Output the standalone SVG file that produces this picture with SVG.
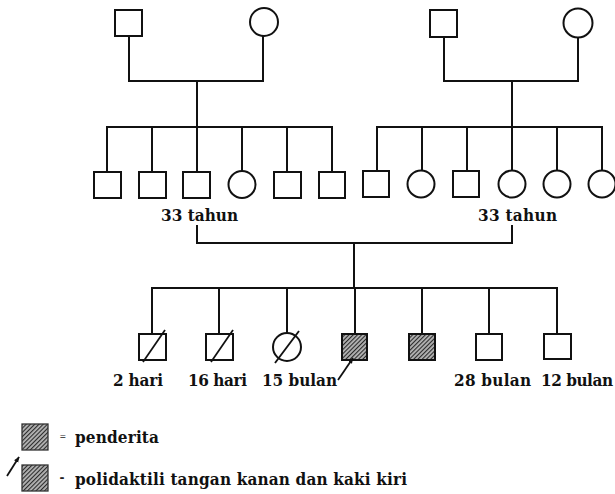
<svg xmlns="http://www.w3.org/2000/svg" width="615" height="494" viewBox="0 0 615 494">
  <style>
    .ln { fill: none; stroke: #111; stroke-width: 2; stroke-linecap: square; }
    .sym { fill: #fff; stroke: #111; stroke-width: 2; }
    .aff { fill: url(#hatch); stroke: #111; stroke-width: 2; }
    .key { fill: url(#hatch); stroke: #333; stroke-width: 1.3; }
    .dec { stroke: #111; stroke-width: 1.8; }
    .lbl { font-family: "DejaVu Serif Condensed", "DejaVu Serif", "Liberation Serif", serif; font-stretch: condensed; font-size: 17px; font-weight: bold; fill: #111; }
    .sign { font-family: "DejaVu Sans", sans-serif; fill: #222; }
  </style>
  <defs>
    <pattern id="hatch" width="3" height="3" patternUnits="userSpaceOnUse" patternTransform="rotate(-45)">
      <rect width="3" height="3" fill="#b4b4b4"/>
      <rect width="3" height="1.1" fill="#2a2a2a"/>
    </pattern>
    <marker id="head" viewBox="0 0 10 10" refX="9" refY="5" markerWidth="6" markerHeight="6" orient="auto" markerUnits="userSpaceOnUse">
      <path d="M0,1 L10,5 L0,9 Z" fill="#111"/>
    </marker>
  </defs>
  <rect width="615" height="494" fill="#fff"/>

  <!-- connectors -->
  <g id="connectors" class="ln">
    <!-- paternal grandparents -->
    <path d="M129,36 V81 H263 V36"/>
    <path d="M197,81 V127"/>
    <path d="M107,127 H332"/>
    <path d="M107,127 V172 M152,127 V172 M197,127 V172 M242,127 V171 M287,127 V172 M332,127 V172"/>
    <!-- maternal grandparents -->
    <path d="M444,37 V81 H578 V37"/>
    <path d="M512,81 V127"/>
    <path d="M377,127 H602"/>
    <path d="M377,127 V172 M422,127 V171 M467,127 V172 M512,127 V171 M557,127 V171 M602,127 V171"/>
    <!-- marriage of the two 33-year-olds -->
    <path d="M197,226 V243 H512 V226"/>
    <path d="M354,243 V288"/>
    <!-- children -->
    <path d="M152,288 H557"/>
    <path d="M152,288 V334 M219,288 V334 M287,288 V333 M355,288 V334 M422,288 V334 M489,288 V334 M557,288 V334"/>
  </g>

  <!-- generation I -->
  <g id="gp1-male"><rect class="sym" x="115" y="10" width="27" height="26"/></g>
  <g id="gp1-female"><circle class="sym" cx="264" cy="22" r="14"/></g>
  <g id="gp2-male"><rect class="sym" x="430" y="10" width="27" height="27"/></g>
  <g id="gp2-female"><circle class="sym" cx="578" cy="23" r="14.5"/></g>

  <!-- generation II, paternal side -->
  <g id="p-sib1"><rect class="sym" x="94" y="172" width="27" height="26"/></g>
  <g id="p-sib2"><rect class="sym" x="139" y="172" width="27" height="26"/></g>
  <g id="father"><rect class="sym" x="183" y="172" width="27" height="26"/>
    <text class="lbl" x="161" y="221" textLength="77">33 tahun</text></g>
  <g id="p-sib4"><circle class="sym" cx="242" cy="184.5" r="13.5"/></g>
  <g id="p-sib5"><rect class="sym" x="274" y="172" width="27" height="26"/></g>
  <g id="p-sib6"><rect class="sym" x="319" y="172" width="26" height="26"/></g>

  <!-- generation II, maternal side -->
  <g id="m-sib1"><rect class="sym" x="363" y="171" width="26" height="26"/></g>
  <g id="m-sib2"><circle class="sym" cx="421" cy="184" r="13.5"/></g>
  <g id="m-sib3"><rect class="sym" x="453" y="171" width="26" height="26"/></g>
  <g id="mother"><circle class="sym" cx="512" cy="184" r="13.5"/>
    <text class="lbl" x="478" y="221" textLength="79">33 tahun</text></g>
  <g id="m-sib5"><circle class="sym" cx="557" cy="184" r="13.5"/></g>
  <g id="m-sib6"><circle class="sym" cx="602" cy="184" r="13.5"/></g>

  <!-- generation III -->
  <g id="c1"><rect class="sym" x="139" y="334" width="27" height="26"/>
    <line class="dec" x1="143" y1="362" x2="165" y2="330"/>
    <text class="lbl" x="113" y="386" textLength="50">2 hari</text></g>
  <g id="c2"><rect class="sym" x="206" y="334" width="27" height="26"/>
    <line class="dec" x1="211" y1="362" x2="233" y2="330"/>
    <text class="lbl" x="188" y="386" textLength="59">16 hari</text></g>
  <g id="c3"><circle class="sym" cx="287" cy="347" r="14"/>
    <line class="dec" x1="275" y1="363" x2="299" y2="331"/>
    <text class="lbl" x="262" y="386" textLength="75">15 bulan</text></g>
  <g id="c4-proband"><rect class="aff" x="342" y="334" width="25" height="26"/>
    <line class="dec" x1="338" y1="380" x2="353" y2="358" marker-end="url(#head)"/></g>
  <g id="c5"><rect class="aff" x="409" y="334" width="26" height="26"/></g>
  <g id="c6"><rect class="sym" x="476" y="334" width="26" height="26"/>
    <text class="lbl" x="454" y="386" textLength="77">28 bulan</text></g>
  <g id="c7"><rect class="sym" x="544" y="334" width="27" height="25"/>
    <text class="lbl" x="541" y="386" textLength="72">12 bulan</text></g>

  <!-- legend -->
  <g id="legend-affected"><rect class="key" x="22" y="424" width="26" height="26"/>
    <text class="sign" x="59.5" y="439" style="font-size:8px">=</text>
    <text class="lbl" x="75" y="443" textLength="84">penderita</text></g>
  <g id="legend-proband">
    <line class="dec" x1="7" y1="476" x2="19" y2="457" marker-end="url(#head)"/>
    <rect class="key" x="22" y="465" width="26" height="26"/>
    <text class="sign" x="59.5" y="482" style="font-size:12px;font-weight:bold">-</text>
    <text class="lbl" x="75" y="485" textLength="332">polidaktili tangan kanan dan kaki kiri</text></g>
</svg>
